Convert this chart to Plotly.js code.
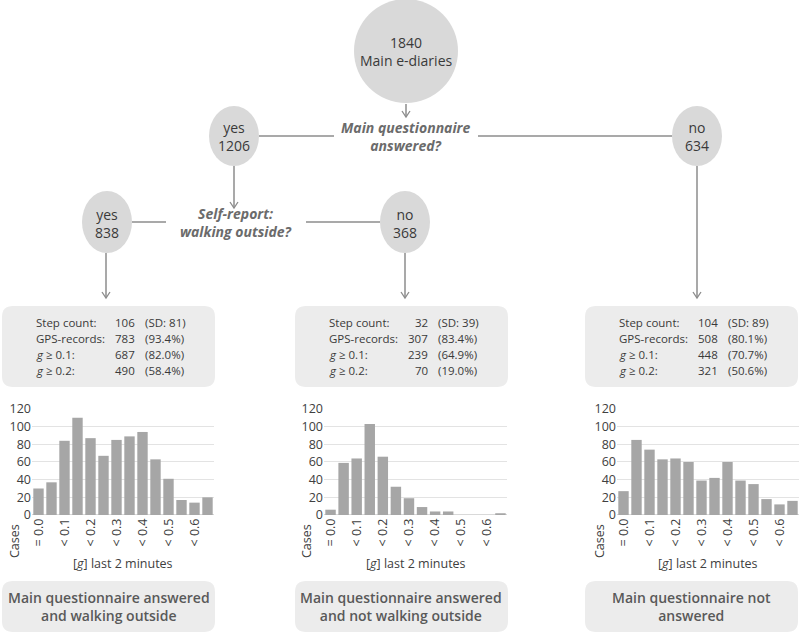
<!DOCTYPE html>
<html><head><meta charset="utf-8">
<script src="https://cdn.plot.ly/plotly-3.0.1.min.js"></script>
<style>html,body{margin:0;padding:0;background:#fff}#chart{width:800px;height:633px}</style>
</head><body><div id="chart"></div>
<script>
// ---- data ----
const bins = ['= 0.0','< 0.05','< 0.1','< 0.15','< 0.2','< 0.25','< 0.3','< 0.35','< 0.4','< 0.45','< 0.5','< 0.55','< 0.6','≥ 0.6'];
const tickLabels = ['= 0.0','< 0.1','< 0.2','< 0.3','< 0.4','< 0.5','< 0.6'];
const casesWalking = [30,37,84,110,87,67,85,89,94,63,41,17,14,20];
const casesNotWalking = [6,59,64,103,66,32,19,9,4,4,0,0,0,2];
const casesNotAnswered = [27,85,74,63,64,60,39,42,60,39,35,18,12,16];
const statLabels = ['Step count:','GPS-records:','<i>g</i> ≥ 0.1:','<i>g</i> ≥ 0.2:'];
const statWalking = ['106','783','687','490'];
const statWalkingPct = ['(SD: 81)','(93.4%)','(82.0%)','(58.4%)'];
const statNotWalking = ['32','307','239','70'];
const statNotWalkingPct = ['(SD: 39)','(83.4%)','(64.9%)','(19.0%)'];
const statNotAnswered = ['104','508','448','321'];
const statNotAnsweredPct = ['(SD: 89)','(80.1%)','(70.7%)','(50.6%)'];
const groupNames = ['Main questionnaire answered<br>and walking outside','Main questionnaire answered<br>and not walking outside','Main questionnaire not<br>answered'];
const totalNode = ['1840','Main e-diaries'];
const q1 = 'Main questionnaire<br>answered?';
const q2 = 'Self-report:<br>walking outside?';
const q1Yes = ['yes','1206'], q1No = ['no','634'];
const q2Yes = ['yes','838'], q2No = ['no','368'];

// ---- geometry helpers (pixels -> paper) ----
const W=800,H=633;
const X=p=>p/W, Y=p=>1-p/H;
const FONT='"Open Sans", "Noto Sans", sans-serif';
const LINE='#8c8c8c', CIRC='#d9d9d9', BOX='#ececec';
const shapes=[], ann=[];
function ellipse(cx,cy,rx,ry){shapes.push({type:'circle',xref:'paper',yref:'paper',x0:X(cx-rx),x1:X(cx+rx),y0:Y(cy+ry),y1:Y(cy-ry),fillcolor:CIRC,line:{width:0},layer:'below'});}
function line(x0,y0,x1,y1){shapes.push({type:'line',xref:'paper',yref:'paper',x0:X(x0),x1:X(x1),y0:Y(y0),y1:Y(y1),line:{color:LINE,width:1.5}});}
function arrow(x,y0,y1){line(x,y0,x,y1);shapes.push({type:'path',xref:'paper',yref:'paper',path:`M${X(x-4)},${Y(y1-6)} L${X(x)},${Y(y1)} L${X(x+4)},${Y(y1-6)}`,line:{color:LINE,width:1.3}});}
function rrect(x0,y0,x1,y1,r){
  const p=`M${X(x0+r)},${Y(y0)} L${X(x1-r)},${Y(y0)} Q${X(x1)},${Y(y0)} ${X(x1)},${Y(y0+r)} L${X(x1)},${Y(y1-r)} Q${X(x1)},${Y(y1)} ${X(x1-r)},${Y(y1)} L${X(x0+r)},${Y(y1)} Q${X(x0)},${Y(y1)} ${X(x0)},${Y(y1-r)} L${X(x0)},${Y(y0+r)} Q${X(x0)},${Y(y0)} ${X(x0+r)},${Y(y0)} Z`;
  shapes.push({type:'path',xref:'paper',yref:'paper',path:p,fillcolor:BOX,line:{width:0},layer:'below'});
}
function text(t,x,y,o){ann.push(Object.assign({text:t,xref:'paper',yref:'paper',x:X(x),y:Y(y),showarrow:false,xanchor:'center',yanchor:'middle',font:{family:FONT,size:13,color:'#404040'}},o||{}));}

// ---- flowchart ----
const nodeFont={family:FONT,size:14,color:'#3a3a3a'};
const qFont={family:FONT,size:14,color:'#6b6b6b',weight:700,style:'italic'};
ellipse(406,51,52,52);
text(totalNode.join('<br>'),406,51,{font:nodeFont});
arrow(406,104,117);
text(q1,406,137,{font:qFont});
line(259,136,334,136); line(478,136,672,136);
ellipse(234,136,25,30); ellipse(697,136,25,30);
text(q1Yes.join('<br>'),234,137,{font:nodeFont});
text(q1No.join('<br>'),697,137,{font:nodeFont});
arrow(234,166,208);
text(q2,236,222,{font:qFont});
line(132,222,166,222); line(306,222,380,222);
ellipse(107,222,25,31); ellipse(405,222,25,31);
text(q2Yes.join('<br>'),107,223,{font:nodeFont});
text(q2No.join('<br>'),405,223,{font:nodeFont});
arrow(106,253,298); arrow(405,253,298); arrow(697,166,298);

// ---- stat boxes & bottom boxes ----
const boxL=[2,295,585];
const statVals=[statWalking,statNotWalking,statNotAnswered];
const statPct=[statWalkingPct,statNotWalkingPct,statNotAnsweredPct];
const rowY=[322,338,354,370];
boxL.forEach((bx,i)=>{
  rrect(bx,306,bx+213,387,11);
  rrect(bx,581,bx+213,632,11);
  statLabels.forEach((lab,r)=>{
    const f={family:FONT,size:11.5,color:'#3a3a3a'};
    text(lab,bx+32,rowY[r],{xanchor:'left',font:f});
    text(statVals[i][r],bx+135,rowY[r],{xanchor:'right',font:f});
    text(statPct[i][r],bx+141,rowY[r],{xanchor:'left',font:f});
  });
  text(groupNames[i],bx+106.5,606.5,{font:{family:FONT,size:14,color:'#595959',weight:600}});
});

// ---- histograms ----
const series=[casesWalking,casesNotWalking,casesNotAnswered];
const dom=[[32,214],[324,507],[617,799]];
const traces=[]; const layout={width:W,height:H,margin:{l:0,r:0,t:0,b:0},paper_bgcolor:'#fff',plot_bgcolor:'rgba(0,0,0,0)',showlegend:false,bargap:0.2,font:{family:FONT,color:'#404040'}};
series.forEach((vals,i)=>{
  const s=i===0?'':String(i+1);
  traces.push({type:'bar',x:bins,y:vals,xaxis:'x'+s,yaxis:'y'+s,marker:{color:'#a6a6a6'},hoverinfo:'x+y'});
  layout['xaxis'+s]={domain:[X(dom[i][0]),X(dom[i][1])],anchor:'y'+s,type:'category',categoryorder:'array',categoryarray:bins,tickmode:'array',tickvals:tickLabels,ticktext:tickLabels,tickangle:-90,tickfont:{family:FONT,size:12.5,color:'#404040'},showgrid:false,showline:false,zeroline:false,ticks:'',fixedrange:true,automargin:false};
  layout['yaxis'+s]={domain:[Y(515),Y(515-121/120*106)],anchor:'x'+s,range:[0,121],tickmode:'linear',tick0:0,dtick:20,showgrid:true,gridcolor:'#e3e3e3',gridwidth:1,zeroline:true,zerolinecolor:'#d9d9d9',zerolinewidth:1,showline:false,ticks:'',tickfont:{family:FONT,size:12.5,color:'#404040'},fixedrange:true,automargin:false};
  text('Cases',dom[i][0]-18,541,{textangle:-90,font:{family:FONT,size:12.5,color:'#404040'}});
  text('[<i>g</i>] last 2 minutes',(dom[i][0]+dom[i][1])/2,563,{font:{family:FONT,size:12.5,color:'#404040'}});
});
layout.shapes=shapes; layout.annotations=ann;
Plotly.newPlot('chart',traces,layout,{displayModeBar:false,staticPlot:true});
</script></body></html>
